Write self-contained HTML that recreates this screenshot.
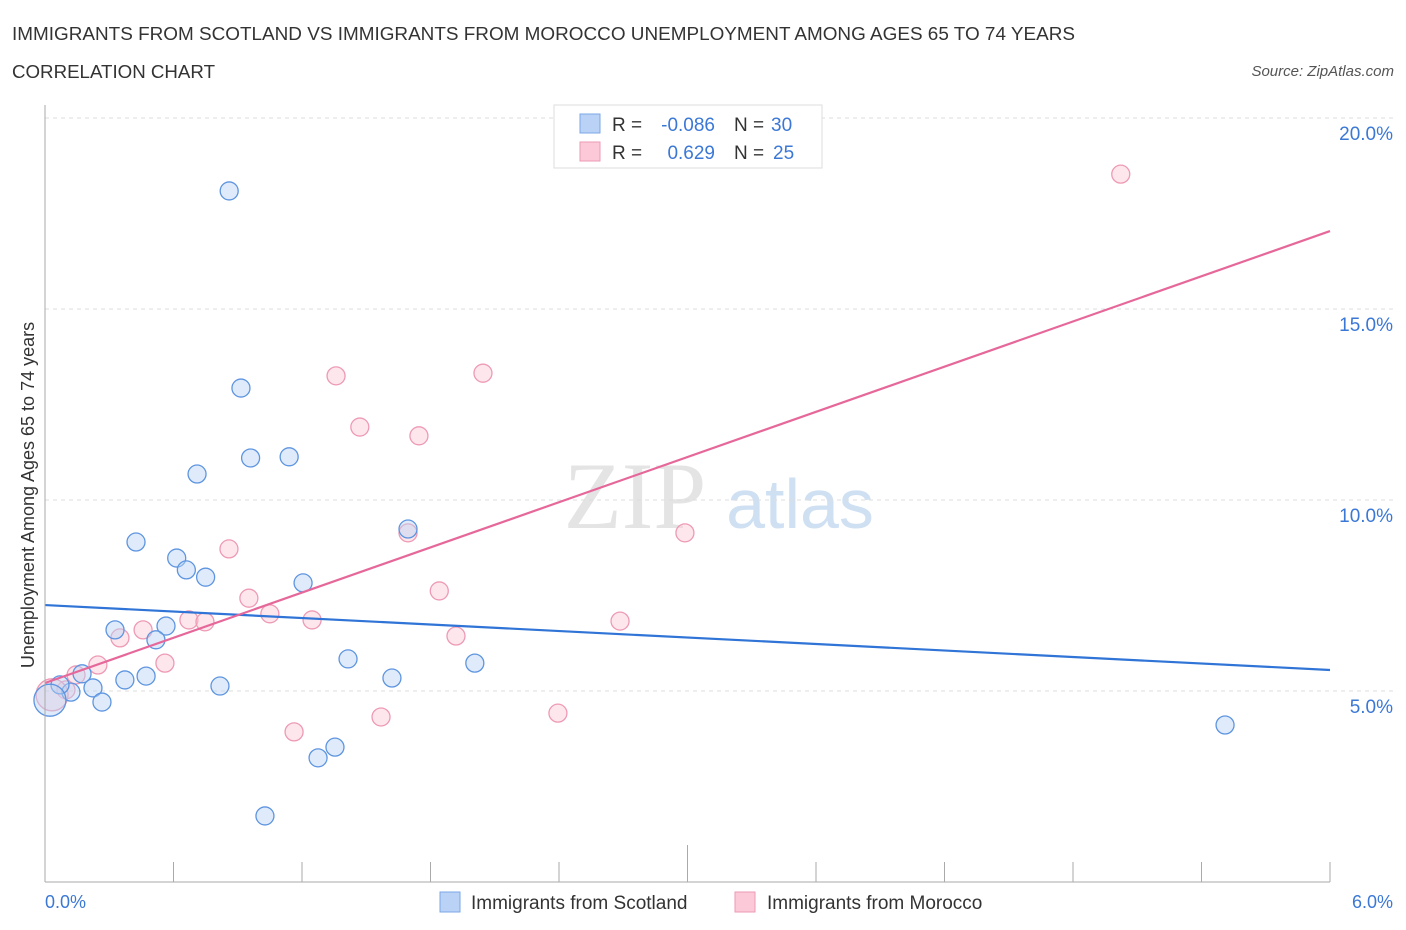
<!DOCTYPE html>
<html><head><meta charset="utf-8"><style>
body{margin:0;background:#fff;font-family:"Liberation Sans",sans-serif;}
svg{display:block}
</style></head><body>
<svg id="c" width="1406" height="930" xmlns="http://www.w3.org/2000/svg">
<text x="12" y="40" font-size="18" fill="#333" textLength="1063" lengthAdjust="spacingAndGlyphs">IMMIGRANTS FROM SCOTLAND VS IMMIGRANTS FROM MOROCCO UNEMPLOYMENT AMONG AGES 65 TO 74 YEARS</text>
<text x="12" y="78" font-size="18" fill="#333" textLength="203" lengthAdjust="spacingAndGlyphs">CORRELATION CHART</text>
<text x="1394" y="76" font-size="15" fill="#555" font-style="italic" text-anchor="end">Source: ZipAtlas.com</text>
<text x="635" y="528" font-size="95" fill="#e4e4e4" font-family="Liberation Serif" text-anchor="middle">ZIP</text>
<text x="800" y="528" font-size="70" fill="#cfe0f3" text-anchor="middle">atlas</text>
<g id="grid"></g><g id="ticks"></g><g id="pts"></g><g id="lines"></g>
<line x1="45" y1="105" x2="45" y2="882" stroke="#aaa"/>
<line x1="45" y1="882" x2="1330" y2="882" stroke="#aaa"/>
<text x="34" y="495" font-size="18" fill="#333" text-anchor="middle" transform="rotate(-90 34 495)">Unemployment Among Ages 65 to 74 years</text>
<text x="45" y="908" font-size="18" fill="#3b78d6">0.0%</text>
<text x="1393" y="908" font-size="18" fill="#3b78d6" text-anchor="end">6.0%</text>
<g>
<rect x="554" y="105" width="268" height="63" fill="#fff" stroke="#ddd"/>
<rect x="580" y="114" width="20" height="19" fill="#b9d2f5" stroke="#7aa7e6"/>
<rect x="580" y="142" width="20" height="19" fill="#fbc9d8" stroke="#ee9ab5"/>
<text x="612" y="131" font-size="19" fill="#333">R =</text>
<text x="715" y="131" font-size="19" fill="#3b78d6" text-anchor="end">-0.086</text>
<text x="734" y="131" font-size="19" fill="#333">N =</text>
<text x="771" y="131" font-size="19" fill="#3b78d6">30</text>
<text x="612" y="159" font-size="19" fill="#333">R =</text>
<text x="715" y="159" font-size="19" fill="#3b78d6" text-anchor="end">0.629</text>
<text x="734" y="159" font-size="19" fill="#333">N =</text>
<text x="773" y="159" font-size="19" fill="#3b78d6">25</text>
</g>
<g><rect x="440" y="892" width="20" height="20" fill="#b9d2f5" stroke="#7aa7e6"/><text x="471" y="909" font-size="19" fill="#333">Immigrants from Scotland</text></g>
<g><rect x="735" y="892" width="20" height="20" fill="#fbc9d8" stroke="#ee9ab5"/><text x="767" y="909" font-size="19" fill="#333">Immigrants from Morocco</text></g>
</svg>
<script>
const yTicks=[5,10,15,20];
const yTickLabels=["5.0%","10.0%","15.0%","20.0%"];
const xTicks=[0,0.6,1.2,1.8,2.4,3.0,3.6,4.2,4.8,5.4,6.0];
const scotX=[0.86,0.915,0.96,1.14,0.71,0.425,0.615,0.66,0.75,1.205,1.695,0.327,0.565,0.518,0.173,0.373,0.472,0.224,0.266,0.121,0.07,0.023,0.817,1.415,1.62,2.007,1.354,1.275,1.027,5.51];
const scotY=[18.09,12.93,11.1,11.13,10.68,8.9,8.48,8.17,7.98,7.83,9.24,6.6,6.7,6.34,5.45,5.29,5.39,5.08,4.71,4.97,5.16,4.76,5.13,5.84,5.34,5.73,3.53,3.25,1.73,4.11];
const morX=[5.023,1.359,2.045,1.47,1.746,1.695,2.988,0.859,0.952,1.841,1.05,0.672,0.747,1.247,0.458,0.35,1.919,2.685,0.247,0.56,0.145,0.098,0.033,1.569,1.163,2.395];
const morY=[18.53,13.25,13.32,11.91,11.68,9.14,9.14,8.72,7.43,7.62,7.02,6.86,6.81,6.86,6.6,6.39,6.44,6.83,5.68,5.73,5.42,5.03,4.9,4.32,3.93,4.42];
const scotTrend=[7.25,5.55];
const morTrend=[5.21,17.04];
const NS="http://www.w3.org/2000/svg";
const sx=v=>45+v*1285/6, sy=v=>882-v*38.2;
function mk(t,a,p){const e=document.createElementNS(NS,t);for(const k in a)e.setAttribute(k,a[k]);p.appendChild(e);return e;}
const grid=document.getElementById('grid'),ticks=document.getElementById('ticks'),pts=document.getElementById('pts'),lines=document.getElementById('lines');
yTicks.forEach((v,i)=>{
 const l=mk('line',{x1:45,x2:1395,y1:sy(v),y2:sy(v),stroke:'#ddd','stroke-dasharray':'4,4'},grid);
 
 
 const t=mk('text',{x:1393,y:sy(v)+22,'font-size':19,fill:'#3b78d6','text-anchor':'end'},grid);
 t.textContent=yTickLabels[i];
 
 
});
xTicks.forEach((v,i)=>{
 const l=mk('line',{x1:sx(v),x2:sx(v),y1:882,y2:i==5?845:862,stroke:'#aaa'},ticks);
 
 
});
function dots(X,Y,fill,stroke,name){X.forEach((x,i)=>{
 const big=x<0.04;
 const c=mk('circle',{cx:sx(x),cy:sy(Y[i]),r:big?16:9,fill:fill,'fill-opacity':0.45,stroke:stroke,'stroke-width':1.3},pts);
 
 
});}
dots(morX,morY,'#fbc9d8','#ee9ab5','morocco-point');
dots(scotX,scotY,'#b9d2f5','#5e95e0','scotland-point');
const l1=mk('line',{x1:sx(0),x2:sx(6),y1:sy(scotTrend[0]),y2:sy(scotTrend[1]),stroke:'#2f74d6','stroke-width':2.2},lines);


const l2=mk('line',{x1:sx(0),x2:sx(6),y1:sy(morTrend[0]),y2:sy(morTrend[1]),stroke:'#e6689a','stroke-width':2.2},lines);


</script>
</body></html>
